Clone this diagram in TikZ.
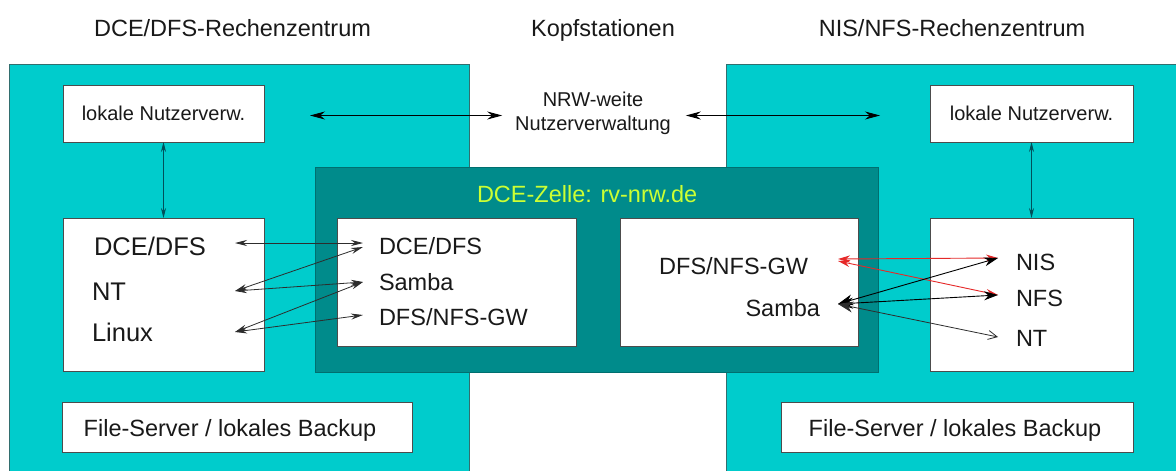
\documentclass[tikz,border=0pt]{standalone}
\usepackage{fontspec}
\setmainfont{Liberation Sans}
\usetikzlibrary{arrows.meta,calc}
\definecolor{cyanbg}{RGB}{0,204,204}
\definecolor{tealbg}{RGB}{0,139,139}
\definecolor{cellttl}{RGB}{204,255,51}
\definecolor{edgecol}{RGB}{50,110,110}
\definecolor{arrgray}{RGB}{45,45,45}
\definecolor{vertarr}{RGB}{0,80,90}
\definecolor{redarr}{RGB}{230,40,40}
\definecolor{txtcol}{RGB}{25,25,25}
\begin{document}
\begin{tikzpicture}[x=1pt,y=-1pt,
  every node/.style={inner sep=0pt,outer sep=0pt,text=txtcol},
  whitebox/.style={draw=gray!60!black,fill=white,line width=0.8pt},
  cellbox/.style={draw=tealbg!80!black,fill=tealbg,line width=0.8pt},
  hfont/.style={font=\fontsize{23.5}{28}\selectfont,text height=16.8pt,text depth=0pt},
  sfont/.style={font=\fontsize{20}{24}\selectfont},
  bfont/.style={font=\fontsize{25.5}{30}\selectfont,text height=18.3pt,text depth=0pt},
  nfont/.style={font=\fontsize{23.5}{28}\selectfont,text height=16.8pt,text depth=0pt},
  thinarr/.style={arrgray,line width=0.8pt,{Stealth[length=12pt,width=6pt]}-{Stealth[length=12pt,width=6pt]}},
  toparr/.style={black,line width=0.9pt,{Stealth[length=15pt,width=8pt]}-{Stealth[length=15pt,width=8pt]}},
  vertical/.style={vertarr,line width=0.8pt,{Stealth[length=10pt,width=5pt]}-{Stealth[length=10pt,width=5pt]}},
  redline/.style={redarr,line width=0.9pt,{Stealth[length=12pt,width=7pt]}-{Stealth[length=12pt,width=7pt]}},
  blackline/.style={black,line width=0.9pt,{Stealth[length=15pt,width=11pt]}-{Stealth[length=14pt,width=9pt]}},
  openline/.style={arrgray,line width=0.8pt,{Stealth[length=15pt,width=11pt]}-{Straight Barb[length=9pt,width=9pt]}}
]
\useasboundingbox (0,0) rectangle (1176,471);
\fill[white] (0,0) rectangle (1176,471);

% data centre regions
\fill[cyanbg] (9,64) rectangle (469,471);
\draw[edgecol,line width=1pt] (9,471) -- (9,64) -- (469,64) -- (469,471);
\fill[cyanbg] (726,64) rectangle (1176,471);
\draw[edgecol,line width=1pt] (726,471) -- (726,64) -- (1176,64);

% headings
\node[hfont] (hL) at (232.5,28) {DCE/DFS-Rechenzentrum};
\node[hfont] (hM) at (603,28) {Kopfstationen};
\node[hfont] (hR) at (952,28) {NIS/NFS-Rechenzentrum};

% user administration
\node[whitebox,minimum width=201pt,minimum height=57pt,sfont] (lokL) at (163.5,113.5) {lokale Nutzerverw.};
\node[whitebox,minimum width=203pt,minimum height=57pt,sfont] (lokR) at (1031.5,113.5) {lokale Nutzerverw.};
\node[sfont,align=center] (nrw) at (593,113) {NRW-weite\\Nutzerverwaltung};

% DCE cell
\node[cellbox,minimum width=563pt,minimum height=205pt] (cell) at (596.5,269.5) {};
\node[nfont,text=cellttl,anchor=west] (celltitle) at (477,194) {DCE-Zelle: rv-nrw.de};
\node[whitebox,minimum width=239pt,minimum height=128pt] (innerL) at (456.5,282) {};
\node[whitebox,minimum width=238pt,minimum height=128pt] (innerR) at (739,282) {};

% main boxes
\node[whitebox,minimum width=201pt,minimum height=153pt] (mainL) at (163.5,294.5) {};
\node[whitebox,minimum width=203pt,minimum height=153pt] (mainR) at (1031.5,294.5) {};

% file servers
\node[whitebox,minimum width=350pt,minimum height=50pt] (fsL) at (237,427) {};
\node[whitebox,minimum width=352pt,minimum height=50pt] (fsR) at (957,427) {};
\node[nfont] (fsLt) at (230,428) {File-Server / lokales Backup};
\node[nfont] (fsRt) at (955,428) {File-Server / lokales Backup};

% texts left main box
\node[bfont,anchor=west,text width=141pt,align=left] (tDCEL) at (94,246) {DCE/DFS};
\node[bfont,anchor=west,text width=143pt,align=left] (tNTL) at (92,291) {NT};
\node[bfont,anchor=west,text width=143pt,align=left] (tLinux) at (92,332) {Linux};

% texts inner left
\node[nfont,anchor=west,inner xsep=16pt] (tDCEi) at (363,246) {DCE/DFS};
\node[nfont,anchor=west,inner xsep=16pt] (tSambai) at (363,282) {Samba};
\node[nfont,anchor=west,inner xsep=16pt] (tGWi) at (363,317) {DFS/NFS-GW};

% texts inner right
\node[nfont,anchor=east,inner xsep=30pt] (tGWr) at (838,266) {DFS/NFS-GW};
\node[nfont,anchor=east,inner xsep=18pt] (tSambar) at (838,308) {Samba};

% texts right main box
\node[nfont,anchor=west,inner xsep=18pt] (tNIS) at (998,262) {NIS};
\node[nfont,anchor=west,inner xsep=18pt] (tNFS) at (998,298) {NFS};
\node[nfont,anchor=west,inner xsep=18pt] (tNTR) at (998,338) {NT};

% connectors: user administration
\draw[toparr] ($(lokL.east)+(46,2)$) -- ($(nrw.west |- lokL.east)+(-13,2)$);
\draw[toparr] ($(nrw.east |- lokR.west)+(15,2)$) -- ($(lokR.west)+(-50,2)$);
\draw[vertical] (lokL.south) -- (mainL.north);
\draw[vertical] (lokR.south) -- (mainR.north);

% connectors: left
\draw[thinarr] ($(tDCEL.east)+(0,-3)$) -- ($(tDCEi.west)+(0,-3)$);
\draw[thinarr] (tNTL.east) -- ($(tDCEi.west)+(0,1)$);
\draw[thinarr] (tNTL.east) -- (tSambai.west);
\draw[thinarr] (tLinux.east) -- (tSambai.west);
\draw[thinarr] (tLinux.east) -- ($(tGWi.west)+(0,-2)$);

% connectors: right
\draw[redline] ($(tGWr.east)+(0,-7)$) -- ($(tNIS.west)+(0,-4)$);
\draw[redline] ($(tGWr.east)+(0,-5)$) -- ($(tNFS.west)+(0,-3)$);
\draw[blackline] ($(tSambar.east)+(0,-4)$) -- ($(tNIS.west)+(0,-4)$);
\draw[blackline] ($(tSambar.east)+(0,-4)$) -- ($(tNFS.west)+(0,-3)$);
\draw[openline] ($(tSambar.east)+(0,-4)$) -- ($(tNTR.west)+(0,-1)$);
\end{tikzpicture}
\end{document}
